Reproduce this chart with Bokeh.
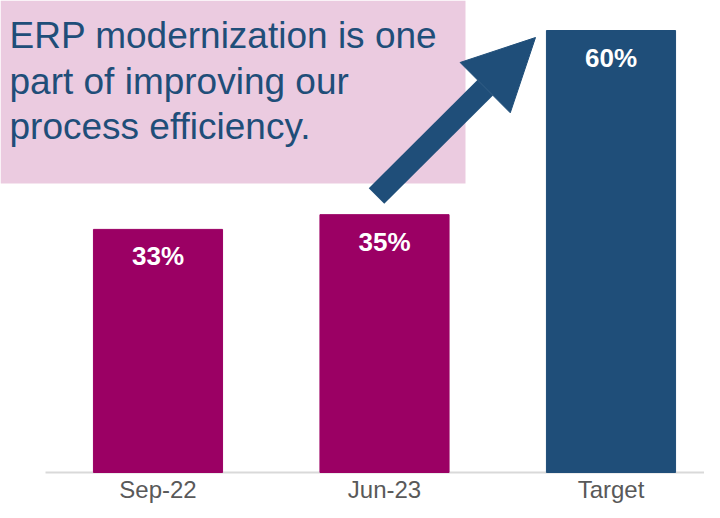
from bokeh.plotting import figure
from bokeh.models import ColumnDataSource, BoxAnnotation, Arrow, NormalHead, Label, FixedTicker, Range1d
from bokeh.embed import file_html
from bokeh.resources import INLINE
from bokeh.core.properties import value

# ---- data ----
categories = ["Sep-22", "Jun-23", "Target"]
values = [33, 35, 60]
value_labels = ["33%", "35%", "60%"]
bar_colors = ["#9B0064", "#9B0064", "#1F4E79"]
callout_lines = ["ERP modernization is one", "part of improving our", "process efficiency."]

# ---- layout helpers (screen px -> data) ----
FW, FH = 704, 474
SPACING = 226.5           # px between category centres
BASE_FY = 472             # baseline position in frame px
TOP_FY = 30               # top of tallest bar in frame px
px_y = (BASE_FY - TOP_FY) / max(values)
xr0 = -157.5 / SPACING
xr1 = xr0 + FW / SPACING
yr1 = BASE_FY / px_y
yr0 = -(FH - BASE_FY) / px_y


def dx(fx):
    return xr0 + fx / SPACING


def dy(fy):
    return (BASE_FY - fy) / px_y


xs = list(range(len(categories)))
src = ColumnDataSource(dict(x=xs, top=values, color=bar_colors, label=value_labels))

p = figure(frame_width=FW, frame_height=FH, output_backend="svg", toolbar_location=None,
           x_range=Range1d(xr0, xr1), y_range=Range1d(yr0, yr1),
           min_border_left=0, min_border_right=0, min_border_top=0, min_border_bottom=0)
p.outline_line_color = None
p.grid.visible = False
p.yaxis.visible = False
p.background_fill_color = "white"

ax = p.xaxis[0]
ax.ticker = FixedTicker(ticks=xs)
ax.major_label_overrides = {i: c for i, c in enumerate(categories)}
ax.axis_line_color = None
ax.major_tick_line_color = None
ax.minor_tick_line_color = None
ax.major_tick_out = 0
ax.major_tick_in = 0
ax.minor_tick_out = 0
ax.major_label_standoff = 1
ax.major_label_text_font = "Liberation Sans"
ax.major_label_text_font_size = "24px"
ax.major_label_text_color = "#595959"

# callout box
p.add_layout(BoxAnnotation(right=dx(465), bottom=dy(183), fill_color="#EBCBE0",
                           fill_alpha=1.0, line_color=None, level="underlay"))
for i, line in enumerate(callout_lines):
    p.add_layout(Label(x=dx(9), y=dy(35 + i * 45.5), text=line, text_baseline="middle",
                       text_font="Liberation Sans", text_font_size="37px", text_color="#1F4E79"))

# arrow
p.add_layout(Arrow(end=NormalHead(size=71, fill_color="#1F4E79", line_color="#1F4E79"),
                   x_start=dx(376), y_start=dy(195.5), x_end=dx(535), y_end=dy(37),
                   line_width=22, line_color="#1F4E79"))

# baseline
p.segment(x0=[dx(45)], y0=[0], x1=[xr1], y1=[0], line_color="#D9D9D9", line_width=2)

# bars
p.vbar(x="x", top="top", bottom=0, width=0.57, color="color", source=src)
p.text(x="x", y="top", text="label", source=src, text_color="white",
       text_font=value("Liberation Sans"), text_font_style="bold", text_font_size="26px",
       text_align="center", text_baseline="middle", y_offset=27)

open("out.html", "w").write(file_html(p, INLINE))
